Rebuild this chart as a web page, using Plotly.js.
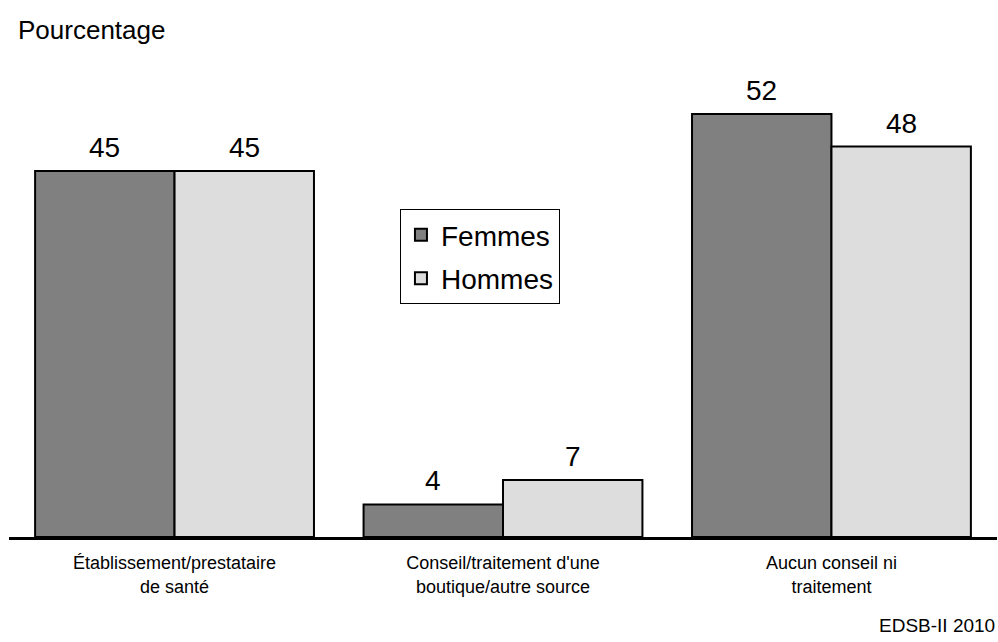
<!DOCTYPE html>
<html>
<head>
<meta charset="utf-8">
<script src="https://cdn.plot.ly/plotly-3.0.1.min.js"></script>
<style>html,body{margin:0;padding:0;background:#fff;}#chart{width:998px;height:642px;}</style>
</head>
<body>
<div id="chart"></div>
<script>
const categories = ["Établissement/prestataire<br>de santé", "Conseil/traitement d'une<br>boutique/autre source", "Aucun conseil ni<br>traitement"];
const femmes = [45, 4, 52];
const hommes = [45, 7, 48];
const seriesNames = ["Femmes", "Hommes"];
const sourceText = "EDSB-II 2010";
const yTitle = "Pourcentage";

const FONT = "Liberation Sans, Arial, sans-serif";
const colors = ["#808080", "#dddddd"];
const bargap = 0.151;
const half = (1 - bargap) / 4;

const traces = [femmes, hommes].map((vals, i) => ({
  type: "bar",
  name: seriesNames[i],
  x: categories,
  y: vals,
  legendgroup: "g" + i,
  marker: {color: colors[i], line: {color: "#000", width: 2}},
  hoverinfo: "skip"
}));

const annotations = [];
[femmes, hommes].forEach((vals, i) => {
  vals.forEach((v, j) => {
    annotations.push({
      xref: "x", yref: "y", x: j + (i === 0 ? -half : half), y: v,
      text: String(v), showarrow: false, yanchor: "bottom", yshift: 6,
      font: {family: FONT, size: 28, color: "#000"}
    });
  });
});
annotations.push({
  xref: "paper", yref: "paper", x: 1, xanchor: "right", y: (537 - 625) / 488, yanchor: "middle",
  text: sourceText, showarrow: false, font: {family: FONT, size: 19, color: "#000"}
});

const layout = {
  width: 998, height: 642,
  margin: {l: 9, r: 1, t: 49, b: 105},
  paper_bgcolor: "#fff", plot_bgcolor: "#fff",
  barmode: "group", bargap: bargap, bargroupgap: 0,
  title: {text: yTitle, x: 18/998, xanchor: "left", xref: "container", y: 1 - 30/642, yanchor: "middle", yref: "container",
          font: {family: FONT, size: 26, color: "#000"}},
  xaxis: {showline: true, linecolor: "#000", linewidth: 2.5, ticks: "", showgrid: false, zeroline: false,
          range: [-0.504, 2.504], tickfont: {family: FONT, size: 18, color: "#000"}, ticklabelstandoff: 8},
  yaxis: {visible: false, range: [0, 60], showgrid: false, zeroline: false},
  showlegend: true,
  legend: {x: 0.3957, y: 0.672, xanchor: "left", yanchor: "top", bgcolor: "#fff", bordercolor: "#000", borderwidth: 1,
           font: {family: FONT, size: 28, color: "#000"}, traceorder: "grouped", tracegroupgap: 4},
  annotations: annotations,
  font: {family: FONT}
};

Plotly.newPlot("chart", traces, layout, {displayModeBar: false, staticPlot: true});
</script>
</body>
</html>
